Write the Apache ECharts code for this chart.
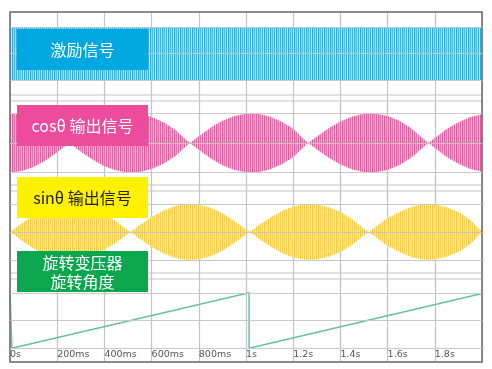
<!DOCTYPE html>
<html>
<head>
<meta charset="utf-8">
<script src="https://cdn.jsdelivr.net/npm/echarts@6/dist/echarts.min.js"></script>
<style>
html,body{margin:0;padding:0;background:#fff;}
#chart{width:492px;height:369px;}
</style>
</head>
<body>
<div id="chart"></div>
<script>
// ---- data ----
const timeTickLabels = ['0s','200ms','400ms','600ms','800ms','1s','1.2s','1.4s','1.6s','1.8s',''];

// excitation signal envelope (normalised amplitude)
const excTime = [0, 0.5, 1.0, 1.5, 2.0];
const excAmp  = [1, 1, 1, 1, 1];

// cosθ output signal envelope
const cosTime = [0,0.05,0.1,0.15,0.2,0.25,0.3,0.35,0.4,0.45,0.5,0.55,0.6,0.65,0.7,0.75,0.762,0.8,0.85,0.9,0.95,1.0,1.05,1.1,1.15,1.2,1.25,1.263,1.3,1.35,1.4,1.45,1.5,1.55,1.6,1.65,1.7,1.75,1.773,1.8,1.85,1.9,1.95,2.0];
const cosAmp  = [1.0,0.95,0.81,0.59,0.31,0.0,0.30,0.57,0.79,0.93,1.0,0.98,0.88,0.70,0.45,0.08,0.0,0.23,0.52,0.75,0.91,0.99,0.99,0.90,0.73,0.48,0.09,0.0,0.22,0.50,0.73,0.90,0.99,0.99,0.91,0.75,0.50,0.15,0.0,0.17,0.47,0.70,0.88,0.97];

// sinθ output signal envelope
const sinTime = [0,0.05,0.1,0.15,0.2,0.25,0.3,0.35,0.4,0.45,0.5,0.51,0.55,0.6,0.65,0.7,0.75,0.8,0.85,0.9,0.95,1.0,1.015,1.05,1.1,1.15,1.2,1.25,1.3,1.35,1.4,1.45,1.5,1.52,1.55,1.6,1.65,1.7,1.75,1.8,1.85,1.9,1.95,2.0];
const sinAmp  = [0,0.31,0.59,0.81,0.95,1.0,0.96,0.84,0.63,0.37,0.06,0.0,0.25,0.53,0.77,0.93,1.0,0.97,0.86,0.67,0.40,0.09,0.0,0.22,0.50,0.74,0.91,0.99,0.98,0.88,0.71,0.46,0.12,0.0,0.19,0.50,0.71,0.89,0.99,0.98,0.88,0.71,0.44,0.0];

// resolver rotation angle (degrees)
const angleTime = [0, 0.008, 0.008, 1.013, 1.013, 2.0];
const angleDeg  = [360, 360, 0, 360, 0, 356];

// ---- helpers ----
function zip(a, b) { return a.map((v, i) => [v, b[i]]); }
function stripes(colors) {
  const c = document.createElement('canvas');
  c.width = colors.length; c.height = 4;
  const ctx = c.getContext('2d');
  colors.forEach((col, i) => { ctx.fillStyle = col; ctx.fillRect(i, 0, 1, 4); });
  return c;
}
function bandRenderer(T, A, pattern) {
  return function (params, api) {
    if (params.dataIndex !== 0) return null;
    const top = [], bot = [];
    for (let i = 0; i < T.length; i++) {
      top.push(api.coord([T[i], A[i]]));
      bot.unshift(api.coord([T[i], -A[i]]));
    }
    return {
      type: 'polygon',
      shape: { points: top.concat(bot) },
      style: { fill: { image: pattern, repeat: 'repeat' } }
    };
  };
}
const gridColor = '#c4c4c4';
function gridLines(values) {
  return {
    silent: true, symbol: 'none', label: { show: false },
    lineStyle: { color: gridColor, width: 1, type: 'solid', opacity: 0.9 },
    data: values.map(v => ({ yAxis: v }))
  };
}

const bluePat   = stripes(['#2fa9de', '#8ad4f0', '#52bbe7', '#a6dcf3', '#3cb0e2', '#c2e7f6']);
const pinkPat   = stripes(['#e35a9c', '#f3a2c8', '#ea70a6', '#f6b8d5', '#e5619f', '#f9cde1']);
const yellowPat = stripes(['#f6c843', '#fbe39c', '#f8d25e', '#fce9b0', '#f7cb4c', '#fdf0c6']);

const chart = echarts.init(document.getElementById('chart'), null, { renderer: 'canvas' });

const L = 10, W = 472;
const panelBox = { show: true, borderColor: gridColor, borderWidth: 1 };

function labelBox(top, fill, text, color, extra) {
  return { type: 'group', left: 17, top: top, z: 100, children: [
    { type: 'rect', z: 100, shape: { x: 0, y: 0, width: 131, height: 41 }, style: { fill: fill } },
    { type: 'text', z: 101, x: 65.5, y: 21, style: Object.assign({ text: text, fill: color, fontSize: 16,
      fontFamily: '"Noto Sans CJK SC"', align: 'center', verticalAlign: 'middle' }, extra || {}) }
  ] };
}

const option = {
  animation: false,
  backgroundColor: '#fff',
  grid: [
    { left: L, top: 12, width: W, height: 350, show: true, borderColor: '#6e6e6e', borderWidth: 1.5, z: 5 },
    Object.assign({ left: L, top: 12, width: W, height: 83 }, panelBox),
    Object.assign({ left: L, top: 101, width: W, height: 84 }, panelBox),
    Object.assign({ left: L, top: 191, width: W, height: 82 }, panelBox),
    Object.assign({ left: L, top: 279, width: W, height: 83 }, panelBox)
  ],
  xAxis: [
    { gridIndex: 0, type: 'value', min: 0, max: 2, interval: 0.2,
      axisLine: { show: false }, axisTick: { show: false }, axisLabel: { show: false },
      splitLine: { show: true, lineStyle: { color: gridColor, width: 1.2 } } },
    { gridIndex: 1, type: 'value', min: 0, max: 2, show: false },
    { gridIndex: 2, type: 'value', min: 0, max: 2, show: false },
    { gridIndex: 3, type: 'value', min: 0, max: 2, show: false },
    { gridIndex: 4, type: 'value', min: 0, max: 2, interval: 0.2,
      axisLine: { show: false }, axisTick: { show: false }, splitLine: { show: false },
      axisLabel: { inside: true, margin: 2, align: 'left', fontSize: 9.5, color: '#555',
        fontFamily: 'DejaVu Sans', showMaxLabel: false,
        formatter: v => timeTickLabels[Math.round(v / 0.2)] || '' } }
  ],
  yAxis: [
    { gridIndex: 0, type: 'value', min: 0, max: 1, show: false },
    { gridIndex: 1, type: 'value', min: -1.566, max: 1.566, show: false },
    { gridIndex: 2, type: 'value', min: -1.42, max: 1.42, show: false },
    { gridIndex: 3, type: 'value', min: -1.46, max: 1.46, show: false },
    { gridIndex: 4, type: 'value', min: -90, max: 450, show: false }
  ],
  series: [
    { type: 'custom', name: '激励信号', xAxisIndex: 1, yAxisIndex: 1,
      data: zip(excTime, excAmp), encode: { x: 0, y: 1 },
      renderItem: bandRenderer(excTime, excAmp, bluePat),
      markLine: gridLines([0, 1, -1]) },
    { type: 'custom', name: 'cosθ 输出信号', xAxisIndex: 2, yAxisIndex: 2,
      data: zip(cosTime, cosAmp), encode: { x: 0, y: 1 },
      renderItem: bandRenderer(cosTime, cosAmp, pinkPat),
      markLine: gridLines([0, 1, -1]) },
    { type: 'custom', name: 'sinθ 输出信号', xAxisIndex: 3, yAxisIndex: 3,
      data: zip(sinTime, sinAmp), encode: { x: 0, y: 1 },
      renderItem: bandRenderer(sinTime, sinAmp, yellowPat),
      markLine: gridLines([0, 1, -1]) },
    { type: 'line', name: '旋转角度', xAxisIndex: 4, yAxisIndex: 4,
      data: zip(angleTime, angleDeg), showSymbol: false, symbol: 'none',
      lineStyle: { color: '#66c2a3', width: 1.5 },
      markLine: gridLines([0, 180, 360]) }
  ],
  graphic: {
    elements: [
      labelBox(29, '#00a7e1', '激励信号', '#fff'),
      labelBox(105, '#ec4c9b', 'cosθ 输出信号', '#fff'),
      labelBox(177, '#fff100', 'sinθ 输出信号', '#222'),
      labelBox(251, '#0aa74f', '旋转变压器\n旋转角度', '#fff', { lineHeight: 19 })
    ]
  }
};
chart.setOption(option);
</script>
</body>
</html>
